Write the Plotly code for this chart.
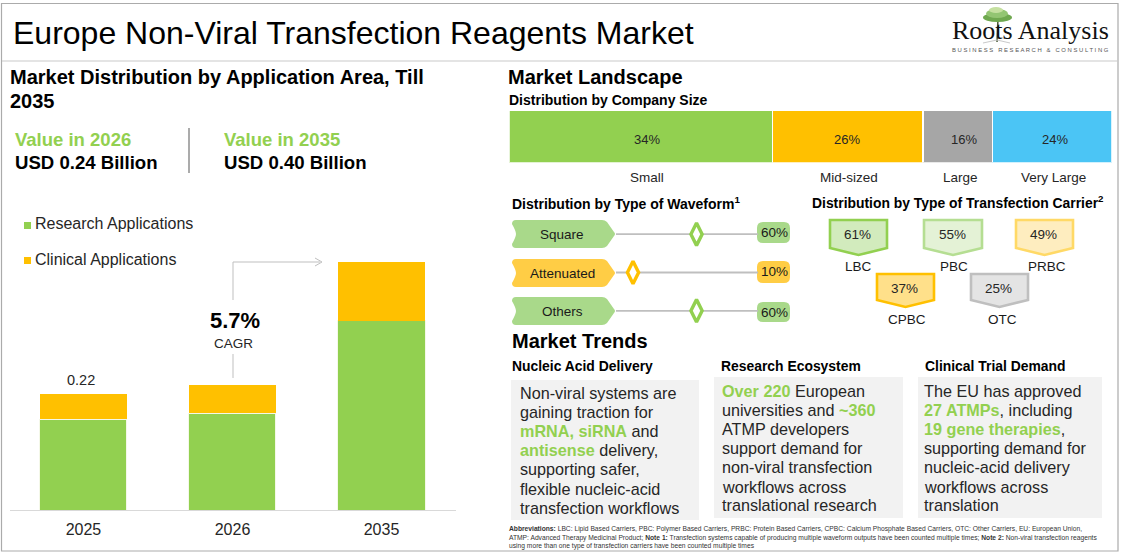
import plotly.graph_objects as go

W, H = 1123, 553

# ---- data ----
years = ["2025", "2026", "2035"]
research = [0.172, 0.184, 0.359]
clinical = [0.048, 0.053, 0.112]
total_label_2025 = "0.22"

company_names = ["Small", "Mid-sized", "Large", "Very Large"]
company_labels = ["34%", "26%", "16%", "24%"]
company_drawn = [43.7, 25.0, 11.5, 19.8]
company_colors = ["#92D050", "#FFC000", "#A6A6A6", "#4BC5F5"]

wave_names = ["Square", "Attenuated", "Others"]
wave_values = [60, 10, 60]
wave_labels = ["60%", "10%", "60%"]

carrier_names = ["LBC", "PBC", "PRBC", "CPBC", "OTC"]
carrier_labels = ["61%", "55%", "49%", "37%", "25%"]

GREEN, AMBER = "#92D050", "#FFC000"
FONT = "Liberation Sans"
HL = GREEN


def X(px):
    return px / W


def Y(py):
    return 1 - py / H


def pt(x, y):
    return f"{X(x):.5f},{Y(y):.5f}"


shapes, annos = [], []


def text(x, y, s, size=13, color="#000000", bold=False, anchor="left", family=FONT):
    annos.append(dict(x=X(x), y=Y(y), xref="paper", yref="paper", xanchor=anchor, yanchor="middle",
                      text=f"<b>{s}</b>" if bold else s, showarrow=False,
                      font=dict(size=size, color=color, family=family), borderpad=0, borderwidth=0))


def rect(x0, y0, x1, y1, fill=None, line=None, lw=1, layer="below"):
    shapes.append(dict(type="rect", xref="paper", yref="paper", x0=X(x0), x1=X(x1), y0=Y(y0), y1=Y(y1),
                       fillcolor=fill or "rgba(0,0,0,0)", line=dict(color=line or "rgba(0,0,0,0)", width=lw if line else 0),
                       layer=layer))


def hline(pts, color="#BFBFBF", lw=1, layer="below"):
    d = "M" + " L".join(pt(a, b) for a, b in pts)
    shapes.append(dict(type="path", xref="paper", yref="paper", path=d, line=dict(color=color, width=lw),
                       fillcolor="rgba(0,0,0,0)", layer=layer))


def poly(pts, fill, line=None, lw=0, layer="below"):
    d = "M" + " L".join(pt(a, b) for a, b in pts) + " Z"
    shapes.append(dict(type="path", xref="paper", yref="paper", path=d, fillcolor=fill,
                       line=dict(color=line or "rgba(0,0,0,0)", width=lw), layer=layer))


def path(d, fill):
    shapes.append(dict(type="path", xref="paper", yref="paper", path=d, fillcolor=fill, line=dict(width=0), layer="below"))


def ellipse(x0, y0, x1, y1, fill):
    shapes.append(dict(type="circle", xref="paper", yref="paper", x0=X(x0), x1=X(x1), y0=Y(y0), y1=Y(y1),
                       fillcolor=fill, line=dict(width=0), layer="below"))


# ---- frame ----
rect(1.5, 3.5, 1118, 551, line="#ABABAB", lw=1.2)
hline([(2, 61), (1118, 61)], "#C9C9C9", 1.2)
text(13, 33, "Europe Non-Viral Transfection Reagents Market", 32)

# ---- logo ----
hline([(998, 18), (997, 42)], "#4A5A38", 1.5)
hline([(983, 43), (997, 40), (1010, 43)], "#C9C9C9", 1)
ellipse(983, 13, 1012, 22, "#6FA84F")
ellipse(986, 9, 1008, 18, "#93C572")
ellipse(989, 7, 1003, 13, "#C5E0A0")
text(952, 31, "Roots Analysis", 26, "#111111", family="Liberation Serif")
text(952, 50, "B U S I N E S S &#160; R E S E A R C H &#160; &amp; &#160; C O N S U L T I N G", 5.9, "#555555")

# ---- left panel ----
text(10, 77, "Market Distribution by Application Area, Till", 20, bold=True)
text(10, 101, "2035", 20, bold=True)
text(15, 139, "Value in 2026", 18.5, GREEN, True)
text(15, 162, "USD 0.24 Billion", 18.6, "#000000", True)
text(224, 139, "Value in 2035", 18.5, GREEN, True)
text(224, 162, "USD 0.40 Billion", 18.6, "#000000", True)
hline([(189, 128), (189, 173)], "#ABABAB", 2)

rect(24, 222, 31, 229, fill=GREEN)
rect(24, 257, 31, 264, fill=AMBER)
text(35, 224, "Research Applications", 16, "#262626")
text(35, 259, "Clinical Applications", 16, "#262626")

hline([(233, 378), (233, 354)], "#BFBFBF", 1)
hline([(233, 300), (233, 262), (320, 262)], "#BFBFBF", 1)
hline([(315, 258), (322, 262), (315, 266)], "#BFBFBF", 1)
text(235, 320, "5.7%", 22, "#000000", True, "center")
text(233, 343, "CAGR", 13.5, "#262626", anchor="center")

# ---- right panel headings ----
text(508, 77, "Market Landscape", 20, bold=True)
text(509, 100, "Distribution by Company Size", 14, bold=True)
text(512, 203, "Distribution by Type of Waveform<sup>1</sup>", 14, bold=True)
text(812, 202, "Distribution by Type of Transfection Carrier<sup>2</sup>", 13.9, bold=True)

# ---- waveform pills ----
rows = [(220, 248, "#A9D98A"), (259, 287, "#FFCD45"), (297, 325, "#A9D98A")]
ends = [(222, 243), (261, 283), (302, 322)]
for (y0, y1, c), (e0, e1), name, lab in zip(rows, ends, wave_names, wave_labels):
    ym = (y0 + y1) / 2
    d = (f"M{pt(516, y0)} L{pt(602, y0)} Q{pt(605, y0)} {pt(607, y0 + 2)} L{pt(614, ym - 2)} Q{pt(616, ym)} {pt(614, ym + 2)} "
         f"L{pt(607, y1 - 2)} Q{pt(605, y1)} {pt(602, y1)} L{pt(516, y1)} Q{pt(512, y1)} {pt(512, y1 - 4)} "
         f"Q{pt(516, ym + 3)} {pt(516, ym)} Q{pt(516, ym - 3)} {pt(512, y0 + 4)} Q{pt(512, y0)} {pt(516, y0)} Z")
    path(d, c)
    text(562, ym, name, 13.5, "#1A1A1A", anchor="center")
    r = 6
    d = (f"M{pt(757 + r, e0)} L{pt(790 - r, e0)} Q{pt(790, e0)} {pt(790, e0 + r)} "
         f"L{pt(790, e1 - r)} Q{pt(790, e1)} {pt(790 - r, e1)} "
         f"L{pt(757 + r, e1)} Q{pt(757, e1)} {pt(757, e1 - r)} "
         f"L{pt(757, e0 + r)} Q{pt(757, e0)} {pt(757 + r, e0)} Z")
    path(d, c)
    text(774, (e0 + e1) / 2, lab, 13.5, "#1A1A1A", anchor="center")

# ---- carrier badges ----
badges = [
    (830, 887, 220, 248, 255, "#D2EBBD", "#92D050", 858, 266),
    (924, 982, 220, 248, 255, "#E4F2D6", "#B5DE92", 954, 266),
    (1016, 1073, 220, 248, 255, "#FEEDBF", "#FFD966", 1047, 266),
    (877, 934, 274, 300, 307, "#FFE08A", "#FFC000", 907, 319),
    (971, 1028, 274, 300, 307, "#E4E4E4", "#BFBFBF", 1002, 319),
]
for (x0, x1, y0, ys, yt, fill, line, lx, ly), name, lab in zip(badges, carrier_names, carrier_labels):
    poly([(x0, y0), (x1, y0), (x1, ys), ((x0 + x1) / 2, yt), (x0, ys)], fill, line, 2.6)
    text((x0 + x1) / 2 - 1, (y0 + ys) / 2 + 1, lab, 13.5, "#262626", anchor="center")
    text(lx, ly, name, 13.5, "#1A1A1A", anchor="center")

# ---- market trends ----
text(512, 341, "Market Trends", 20, bold=True)
text(512, 366, "Nucleic Acid Delivery", 13.9, bold=True)
text(721, 366, "Research Ecosystem", 13.9, bold=True)
text(925, 366, "Clinical Trial Demand", 13.9, bold=True)
rect(511, 380, 699, 520, fill="#F2F2F2")
rect(714, 377, 903, 518, fill="#F2F2F2")
rect(918, 377, 1102, 518, fill="#F2F2F2")


def hl(s):
    return f'<b><span style="color:{HL}">{s}</span></b>'


col1 = ["Non-viral systems are", "gaining traction for", hl("mRNA, siRNA") + " and", hl("antisense") + " delivery,",
        "supporting safer,", "flexible nucleic-acid", "transfection workflows"]
col2 = [hl("Over 220") + " European", "universities and " + hl("~360"), "ATMP developers", "support demand for",
        "non-viral transfection", "workflows across", "translational research"]
col3 = ["The EU has approved", hl("27 ATMPs") + ", including", hl("19 gene therapies") + ",", "supporting demand for",
        "nucleic-acid delivery", "workflows across", "translation"]
ys1 = [393, 412, 431, 450, 469, 489, 508]
ys2 = [391, 410, 429, 448, 467, 487, 505]
for xpos, lines, ys in [(520, col1, ys1), (722, col2, ys2), (924, col3, ys2)]:
    for s, y in zip(lines, ys):
        text(xpos, y, s, 16.2, "#262626")

# ---- footnote ----
foot = [
    "<b>Abbreviations:</b> LBC: Lipid Based Carriers, PBC: Polymer Based Carriers, PRBC: Protein Based Carriers, CPBC: Calcium Phosphate Based Carriers, OTC: Other Carriers, EU: European Union,",
    "ATMP: Advanced Therapy Medicinal Product; <b>Note 1:</b> Transfection systems capable of producing multiple waveform outputs have been counted multiple times; <b>Note 2:</b> Non-viral transfection reagents",
    "using more than one type of transfection carriers have been counted multiple times",
]
for s, y in zip(foot, [529, 538, 546]):
    text(509, y, s, 6.7, "#333333")

# ---- traces ----
fig = go.Figure()
BW = 0.584
fig.add_bar(x=years, y=research, name="Research Applications", width=BW, marker=dict(color=GREEN, line=dict(color="#F4F8E8", width=1)),
            xaxis="x", yaxis="y", showlegend=False)
fig.add_bar(x=years, y=clinical, name="Clinical Applications", width=BW, marker=dict(color=AMBER, line=dict(width=0)),
            xaxis="x", yaxis="y", showlegend=False)
annos.append(dict(x=0, y=research[0] + clinical[0], xref="x", yref="y", text=total_label_2025, showarrow=False,
                  xshift=-2, yshift=14, font=dict(size=14.5, color="#262626", family=FONT)))

pct_shift = [6, -1, 6, 3]
name_shift = [6, 1, 3, 1]
cum = 0
for i, (name, lab, val, col) in enumerate(zip(company_names, company_labels, company_drawn, company_colors)):
    fig.add_bar(x=[val], y=["Company size"], orientation="h", width=1, name=name,
                marker=dict(color=col, line=dict(color="#FFFFFF", width=1.5)), xaxis="x2", yaxis="y2", showlegend=False)
    mid = cum + val / 2
    annos.append(dict(x=mid, y=Y(139), xref="x2", yref="paper", yanchor="middle", showarrow=False, text=lab, xshift=pct_shift[i],
                      font=dict(size=13, color="#262626", family=FONT)))
    annos.append(dict(x=mid, y=Y(177), xref="x2", yref="paper", yanchor="middle", showarrow=False, text=name, xshift=name_shift[i],
                      font=dict(size=13.5, color="#262626", family=FONT)))
    cum += val

row_colors = [GREEN, AMBER, GREEN]
for name in wave_names:
    fig.add_scatter(x=[-10, 120], y=[name, name], mode="lines", line=dict(color="#BFBFBF", width=1.8),
                    xaxis="x3", yaxis="y3", showlegend=False)
fig.add_scatter(x=wave_values, y=wave_names, mode="markers", xaxis="x3", yaxis="y3", showlegend=False,
                marker=dict(symbol="diamond-tall", size=16, color="#FFFFFF", line=dict(color=row_colors, width=3.4)))

fig.update_layout(
    width=W, height=H, margin=dict(l=0, r=0, t=0, b=0, autoexpand=False), paper_bgcolor="#FFFFFF", plot_bgcolor="rgba(0,0,0,0)",
    barmode="stack", showlegend=False, shapes=shapes, annotations=annos, font=dict(family=FONT),
    xaxis=dict(domain=[X(10), X(456)], range=[-0.493, 2.5], type="category", showgrid=False, zeroline=False, showline=True,
               linecolor="#D9D9D9", linewidth=1, ticks="", ticklabelstandoff=5, tickfont=dict(size=16, color="#262626", family=FONT), anchor="y"),
    yaxis=dict(domain=[Y(510), Y(246.5)], range=[0, 0.5], visible=False, anchor="x"),
    xaxis2=dict(domain=[X(509.3), X(1111.7)], range=[0, 100], visible=False, anchor="y2"),
    yaxis2=dict(domain=[Y(162.5), Y(110.5)], type="category", range=[-0.5, 0.5], visible=False, anchor="x2"),
    xaxis3=dict(domain=[X(616), X(758)], range=[-3.4, 108.4], visible=False, anchor="y3"),
    yaxis3=dict(domain=[Y(330), Y(215)], type="category", categoryorder="array", categoryarray=wave_names[::-1],
                range=[-0.5, 2.5], visible=False, anchor="x3"),
)

fig.write_html("out.html", config=dict(displayModeBar=False),
               post_script="document.body.style.margin='0';document.body.style.overflow='hidden';")
